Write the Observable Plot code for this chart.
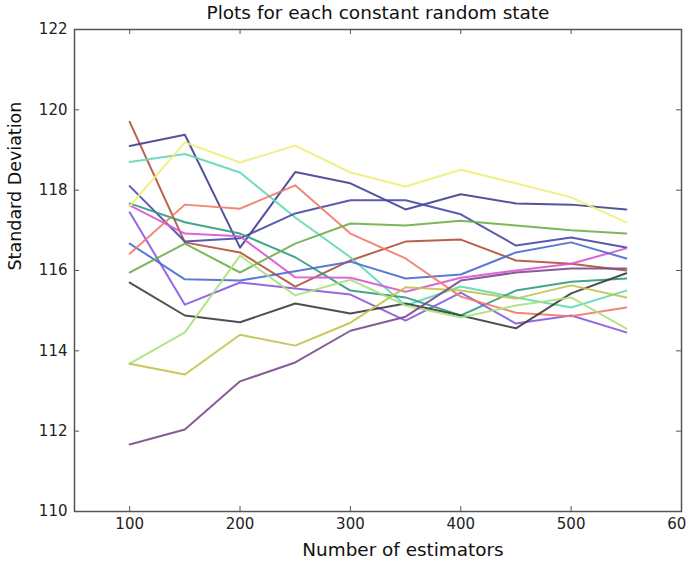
<!DOCTYPE html>
<html>
<head>
<meta charset="utf-8">
<script src="https://cdn.jsdelivr.net/npm/d3@7"></script>
<script src="https://cdn.jsdelivr.net/npm/@observablehq/plot@0.6"></script>
<style>
  html, body { margin: 0; padding: 0; background: #fff; overflow: hidden; }
  #chart svg { display: block; }
</style>
</head>
<body>
<div id="chart"></div>
<script>
const estimators = [100, 150, 200, 250, 300, 350, 400, 450, 500, 550];

const state01 = [119.7, 116.7, 116.45, 115.6, 116.25, 116.72, 116.77, 116.25, 116.17, 116.0];
const state02 = [119.1, 119.38, 116.57, 118.45, 118.17, 117.52, 117.9, 117.67, 117.64, 117.52];
const state03 = [118.7, 118.9, 118.44, 117.32, 116.33, 115.13, 115.6, 115.33, 115.08, 115.5];
const state04 = [118.1, 116.72, 116.8, 117.42, 117.75, 117.75, 117.4, 116.62, 116.82, 116.57];
const state05 = [117.67, 117.2, 116.92, 116.33, 115.5, 115.33, 114.88, 115.5, 115.72, 115.8];
const state06 = [117.62, 116.92, 116.85, 115.83, 115.82, 115.47, 115.82, 116.0, 116.17, 116.55];
const state07 = [117.45, 115.15, 115.7, 115.55, 115.4, 114.75, 115.45, 114.68, 114.88, 114.46];
const state08 = [116.67, 115.78, 115.75, 115.98, 116.22, 115.8, 115.9, 116.45, 116.7, 116.3];
const state09 = [116.42, 117.64, 117.54, 118.12, 116.92, 116.3, 115.35, 114.95, 114.86, 115.08];
const state10 = [115.95, 116.67, 115.95, 116.67, 117.17, 117.12, 117.24, 117.12, 117.0, 116.92];
const state11 = [115.7, 114.88, 114.71, 115.18, 114.93, 115.18, 114.88, 114.56, 115.43, 115.93];
const state12 = [113.68, 114.46, 116.37, 115.38, 115.77, 115.13, 114.83, 115.13, 115.33, 114.55];
const state13 = [113.68, 113.41, 114.4, 114.13, 114.7, 115.58, 115.5, 115.3, 115.63, 115.33];
const state14 = [111.67, 112.04, 113.24, 113.71, 114.5, 114.85, 115.75, 115.95, 116.05, 116.05];
const state15 = [117.6, 119.19, 118.69, 119.11, 118.44, 118.09, 118.51, 118.17, 117.82, 117.2];

const seriesNames  = ["state 1","state 2","state 3","state 4","state 5","state 6","state 7","state 8","state 9","state 10","state 11","state 12","state 13","state 14","state 15"];
const seriesValues = [state01, state02, state03, state04, state05, state06, state07, state08, state09, state10, state11, state12, state13, state14, state15];
const seriesColors = ["#b0503a","#404090","#62d8b6","#4848a8","#2f9c7c","#d655d6","#8a58e0","#4a6ad0","#ef7a65","#6cb048","#3c3c3c","#a8e27a","#c2c24a","#7a4a88","#eeee78"];

const xTicks = [100, 200, 300, 400, 500, 600];
const yTicks = [110, 112, 114, 116, 118, 120, 122];

const titleText = "Plots for each constant random state";
const xLabel = "Number of estimators";
const yLabel = "Standard Deviation";

const rows = [];
seriesNames.forEach((name, i) => {
  seriesValues[i].forEach((v, j) => rows.push({series: name, n: estimators[j], sd: v}));
});

const W = 686, H = 571;
const mL = 74, mR = 5, mT = 29, mB = 60;
const innerW = W - mL - mR, innerH = H - mT - mB;
const font = "DejaVu Sans, sans-serif";

const chart = Plot.plot({
  width: W,
  height: H,
  marginLeft: mL,
  marginRight: mR,
  marginTop: mT,
  marginBottom: mB,
  style: {fontFamily: font, fontSize: "15px", color: "#222", background: "#fff"},
  x: {domain: [50, 600]},
  y: {domain: [110, 122]},
  color: {domain: seriesNames, range: seriesColors},
  marks: [
    Plot.line(rows, {x: "n", y: "sd", z: "series", stroke: "series", strokeWidth: 2, strokeOpacity: 0.9}),
    Plot.frame({stroke: "#555", strokeWidth: 1.5}),
    Plot.tickX(xTicks.filter(d => d < 600), {x: d => d, insetTop: innerH - 5, stroke: "#555"}),
    Plot.tickX(xTicks.filter(d => d < 600), {x: d => d, insetBottom: innerH - 5, stroke: "#555"}),
    Plot.tickY(yTicks.filter(d => d > 110 && d < 122), {y: d => d, insetRight: innerW - 5, stroke: "#555"}),
    Plot.tickY(yTicks.filter(d => d > 110 && d < 122), {y: d => d, insetLeft: innerW - 5, stroke: "#555"}),
    Plot.axisX(xTicks, {tickSize: 0, tickPadding: 7, label: null, tickFormat: d => String(d), fontSize: 15, fill: "#222"}),
    Plot.axisY(yTicks, {tickSize: 0, tickPadding: 7, label: null, tickFormat: d => String(d), fontSize: 15, fill: "#222"}),
    Plot.text([titleText], {frameAnchor: "top", dy: -16, text: d => d, fontSize: 18.5, fill: "#111", lineAnchor: "middle"}),
    Plot.text([xLabel], {frameAnchor: "bottom", dx: 25, dy: 39, text: d => d, fontSize: 18.4, fill: "#111", lineAnchor: "middle"}),
    Plot.text([yLabel], {frameAnchor: "left", dx: -59, rotate: -90, text: d => d, fontSize: 17.5, fill: "#111", lineAnchor: "middle"})
  ]
});
document.getElementById("chart").appendChild(chart);
</script>
</body>
</html>
